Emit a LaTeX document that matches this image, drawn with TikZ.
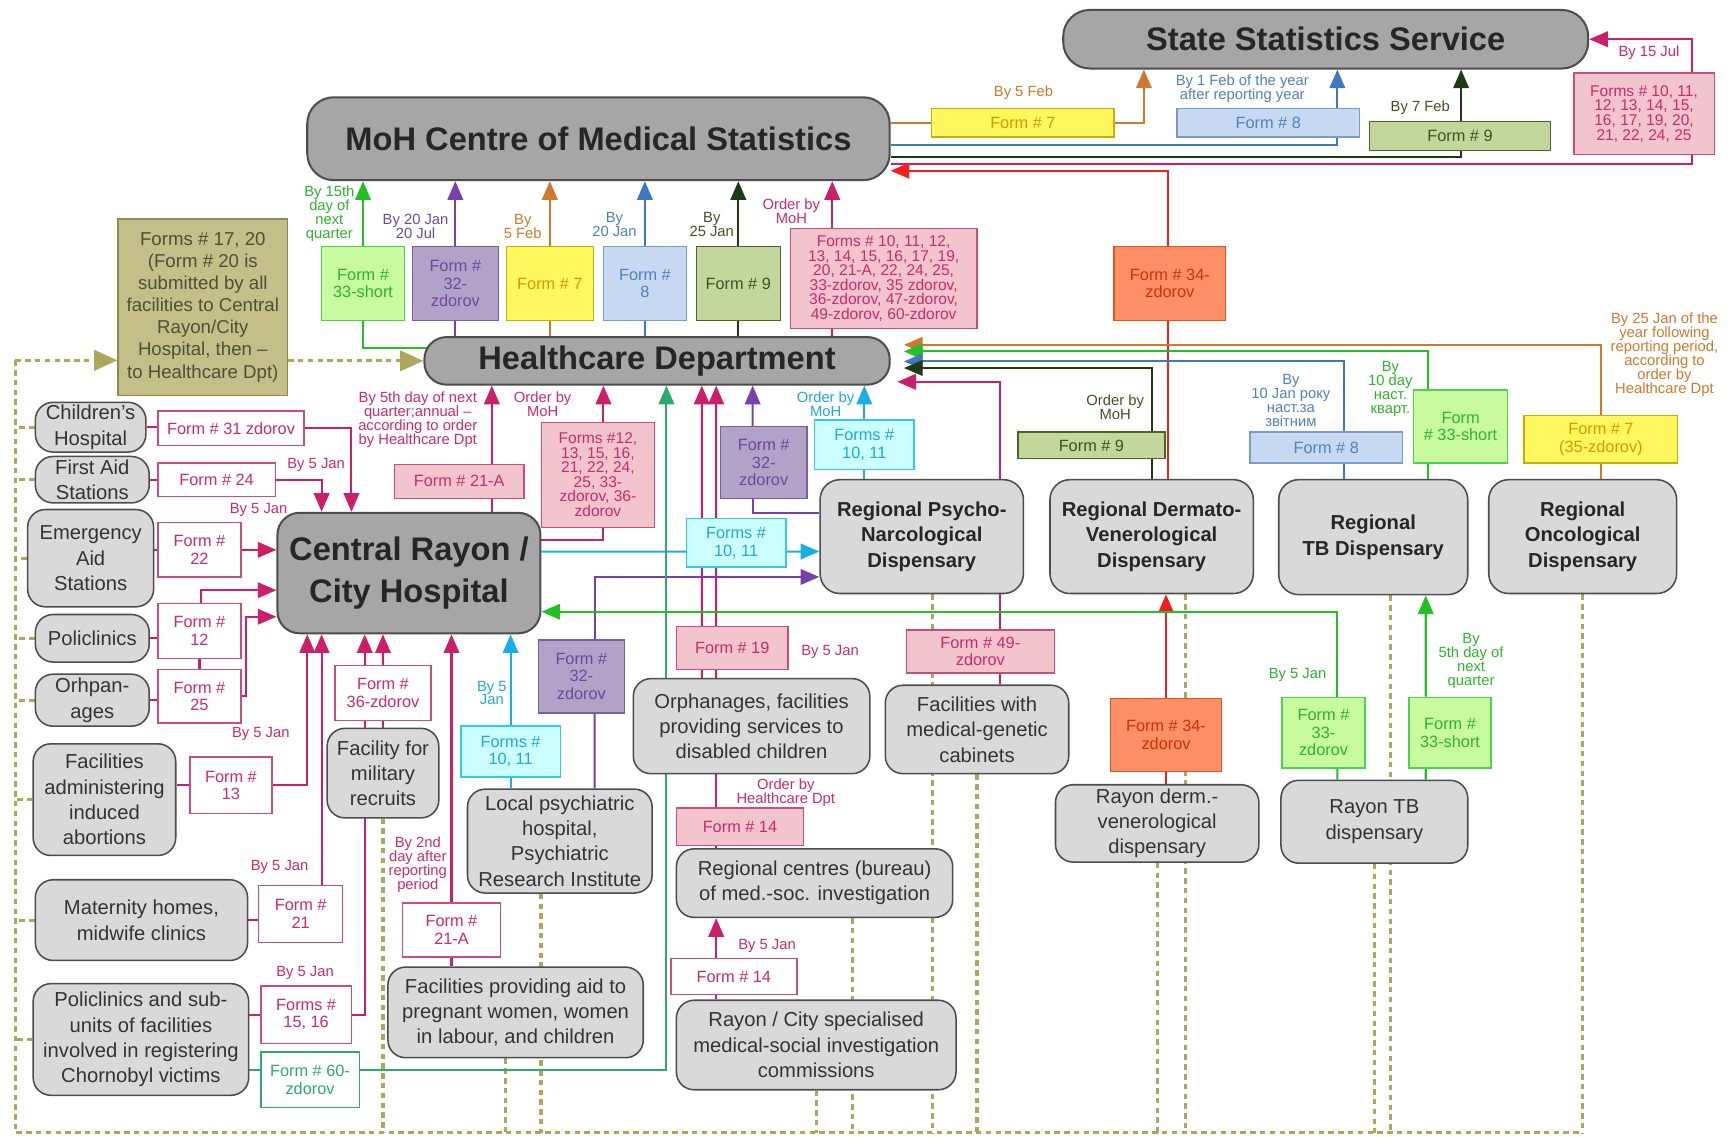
\documentclass[tikz,border=0pt]{standalone}
\usepackage{fontspec}
\setmainfont{Liberation Sans}
\setsansfont{Liberation Sans}
\usetikzlibrary{arrows.meta,calc,backgrounds,positioning}

\definecolor{bigfill}{HTML}{A6A6A6}
\definecolor{smallfill}{HTML}{D9D9D9}
\definecolor{boxline}{HTML}{4D4D4D}
\definecolor{titletext}{HTML}{262626}
\definecolor{factext}{HTML}{333333}
\definecolor{olivefill}{HTML}{C4BF88}
\definecolor{oliveline}{HTML}{8E8A4E}
\definecolor{olivetext}{HTML}{4F4F35}
\definecolor{dashcol}{HTML}{ACA75C}
\definecolor{yelfill}{HTML}{FFF75E}
\definecolor{yelline}{HTML}{C9AE00}
\definecolor{yeltext}{HTML}{D49A00}
\definecolor{bluefill}{HTML}{C6D9F1}
\definecolor{blueline}{HTML}{7A9CC8}
\definecolor{bluetext}{HTML}{4F81BD}
\definecolor{grnfill}{HTML}{C3D69B}
\definecolor{grnline}{HTML}{4F6228}
\definecolor{grntext}{HTML}{375623}
\definecolor{limefill}{HTML}{C8FA9E}
\definecolor{limeline}{HTML}{4CD24C}
\definecolor{limetext}{HTML}{2DB42D}
\definecolor{purfill}{HTML}{B3A2C7}
\definecolor{purline}{HTML}{7A5E9E}
\definecolor{purtext}{HTML}{6A4A9C}
\definecolor{pinkfill}{HTML}{F2C4CE}
\definecolor{pinkline}{HTML}{CC4C80}
\definecolor{pinktext}{HTML}{CC2A6B}
\definecolor{cyanfill}{HTML}{CCFFFF}
\definecolor{cyanline}{HTML}{33C8EE}
\definecolor{cyantext}{HTML}{1FA8D8}
\definecolor{redfill}{HTML}{FF8F66}
\definecolor{redline}{HTML}{D9541E}
\definecolor{redtext}{HTML}{CC3300}
\definecolor{tealline}{HTML}{2EAA70}
\definecolor{orcol}{HTML}{D0782E}
\definecolor{blcol}{HTML}{3F78C2}
\definecolor{dgcol}{HTML}{1E3A12}
\definecolor{pkcol}{HTML}{CC1F6A}
\definecolor{gncol}{HTML}{22C022}
\definecolor{pucol}{HTML}{7A3FAF}
\definecolor{cycol}{HTML}{1AAEE8}
\definecolor{rdcol}{HTML}{F02020}

\tikzset{sz/.style 2 args={minimum width=#1*0.025cm,minimum height=#2*0.025cm}}
\tikzset{bigbox/.style={draw=boxline,line width=1.3pt,fill=bigfill,rounded corners=0.6cm,align=center,inner sep=1pt,text=titletext,font=\fontsize{21}{27}\selectfont\bfseries}}
\tikzset{regbox/.style={draw=boxline,line width=1pt,fill=smallfill,rounded corners=0.45cm,align=center,inner sep=1pt,text=titletext,font=\fontsize{13}{16.5}\selectfont\bfseries}}
\tikzset{facbox/.style={draw=boxline,line width=1pt,fill=smallfill,rounded corners=0.4cm,align=center,inner sep=1pt,text=factext,font=\fontsize{13}{16.3}\selectfont}}
\tikzset{olivebox/.style={draw=oliveline,line width=1pt,fill=olivefill,align=center,inner sep=1pt,text=olivetext,font=\fontsize{12}{14.2}\selectfont}}
\tikzset{form/.style={line width=0.9pt,align=center,inner sep=1pt,font=\fontsize{10.5}{11.3}\selectfont}}
\tikzset{dense/.style={font=\fontsize{10}{9.4}\selectfont}}
\tikzset{fyellow/.style={form,draw=yelline,fill=yelfill,text=yeltext}}
\tikzset{fblue/.style={form,draw=blueline,fill=bluefill,text=bluetext}}
\tikzset{fgreen/.style={form,draw=grnline,fill=grnfill,text=grntext}}
\tikzset{flime/.style={form,draw=limeline,fill=limefill,text=limetext}}
\tikzset{fpurple/.style={form,draw=purline,fill=purfill,text=purtext}}
\tikzset{fpink/.style={form,draw=pinkline,fill=pinkfill,text=pinktext}}
\tikzset{fwhite/.style={form,draw=pinkline,fill=white,text=pinktext}}
\tikzset{fcyan/.style={form,draw=cyanline,fill=cyanfill,text=cyantext}}
\tikzset{fred/.style={form,draw=redline,fill=redfill,text=redtext}}
\tikzset{fteal/.style={form,draw=tealline,fill=white,text=tealline}}
\tikzset{lbl/.style={align=center,inner sep=0pt,font=\fontsize{9.5}{9}\selectfont}}
\tikzset{lnk/.style={line width=1.3pt}}
\tikzset{arr/.style={-{Triangle[length=12pt,width=10pt]}}}
\tikzset{bigarr/.style={-{Triangle[length=15pt,width=13pt]}}}
\tikzset{lorange/.style={lnk,draw=orcol}}
\tikzset{lblue/.style={lnk,draw=blcol}}
\tikzset{ldkgreen/.style={lnk,draw=dgcol}}
\tikzset{lpink/.style={lnk,draw=pkcol}}
\tikzset{lgreen/.style={lnk,draw=gncol}}
\tikzset{lpurple/.style={lnk,draw=pucol}}
\tikzset{lcyan/.style={lnk,draw=cycol}}
\tikzset{lred/.style={lnk,draw=rdcol}}
\tikzset{lteal/.style={lnk,draw=tealline}}
\tikzset{dashline/.style={draw=dashcol,line width=2pt,dash pattern=on 3.5pt off 2.8pt}}

\begin{document}
\begin{tikzpicture}[x=0.025cm,y=-0.025cm]
  \useasboundingbox (0,0) rectangle (1568,1028);

  % main bodies
  \node[bigbox,sz={475}{53}] (sss) at (1199.5,35.5) {State Statistics Service};
  \node[bigbox,sz={527}{75}] (moh) at (541.5,125.5) {MoH Centre of Medical Statistics};
  \node[bigbox,sz={421}{43},rounded corners=0.5cm] (hd) at (594.5,326.5) {Healthcare Department};
  \node[bigbox,sz={238}{109},rounded corners=0.5cm] (crh) at (370,518.5) {Central Rayon /\\City Hospital};
  \node[olivebox,sz={153}{160}] (f1720) at (183.5,278) {Forms \# 17, 20\\(Form \# 20 is\\submitted by all\\facilities to Central\\Rayon/City\\Hospital, then --\\to Healthcare Dpt)};

  % forms to the State Statistics Service
  \node[fyellow,sz={165}{26}] (t7) at (925.5,111) {Form \# 7};
  \node[fblue,sz={165}{26}] (t8) at (1147.5,111) {Form \# 8};
  \node[fgreen,sz={164}{26}] (t9) at (1321,123) {Form \# 9};
  \node[fpink,dense,sz={127}{74}] (tpk) at (1487.5,103) {Forms \# 10, 11,\\12, 13, 14, 15,\\16, 17, 19, 20,\\21, 22, 24, 25};

  % forms to the MoH centre
  \node[flime,sz={75}{67}] (m33) at (328.5,256.5) {Form \#\\33-short};
  \node[fpurple,sz={78}{67}] (m32) at (412,256.5) {Form \#\\32-\\zdorov};
  \node[fyellow,sz={79}{67}] (m7) at (497.5,256.5) {Form \# 7};
  \node[fblue,sz={75}{67}] (m8) at (583.5,256.5) {Form \#\\8};
  \node[fgreen,sz={76}{67}] (m9) at (668,256.5) {Form \# 9};
  \node[fpink,dense,sz={169}{90}] (mpk) at (799.5,252) {Forms \# 10, 11, 12,\\13, 14, 15, 16, 17, 19,\\20, 21-A, 22, 24, 25,\\33-zdorov, 35 zdorov,\\36-zdorov, 47-zdorov,\\49-zdorov, 60-zdorov};
  \node[fred,sz={101}{67}] (m34) at (1058.5,256.5) {Form \# 34-\\zdorov};

  % regional dispensaries
  \node[regbox,sz={184}{103}] (rpsy) at (834,485.5) {Regional Psycho-\\Narcological\\Dispensary};
  \node[regbox,sz={184}{103}] (rder) at (1042,485.5) {Regional Dermato-\\Venerological\\Dispensary};
  \node[regbox,sz={171}{104}] (rtb) at (1242.5,486) {Regional\\TB Dispensary};
  \node[regbox,sz={170}{103}] (ronc) at (1432,485.5) {Regional\\Oncological\\Dispensary};
  \node[fgreen,sz={133}{24}] (d9) at (987.5,403) {Form \# 9};
  \node[fblue,sz={138}{28}] (d8) at (1200,405) {Form \# 8};
  \node[flime,sz={85}{66}] (d33) at (1321.5,386) {Form\\\# 33-short};
  \node[fyellow,sz={139}{43}] (d7) at (1448.5,397.5) {Form \# 7\\(35-zdorov)};

  % facilities on the left
  \node[facbox,sz={100}{45}] (chh) at (82,386.5) {Children's\\Hospital};
  \node[facbox,sz={103}{42}] (fas) at (83.5,434) {First Aid\\Stations};
  \node[facbox,sz={114}{88}] (eas) at (82,505) {Emergency\\Aid\\Stations};
  \node[facbox,sz={103}{43}] (pol) at (83.5,577.5) {Policlinics};
  \node[facbox,sz={103}{47}] (orp) at (83.5,633.5) {Orhpan-\\ages};
  \node[facbox,sz={129}{101}] (abo) at (94.5,723.5) {Facilities\\administering\\induced\\abortions};
  \node[facbox,sz={192}{73}] (mat) at (128,832.5) {Maternity homes,\\midwife clinics};
  \node[facbox,sz={195}{101}] (chr) at (127.5,940.5) {Policlinics and sub-\\units of facilities\\involved in registering\\Chornobyl victims};
  \node[fwhite,sz={132}{31}] (w31) at (209,387.5) {Form \# 31 zdorov};
  \node[fwhite,sz={106}{30}] (w24) at (196,434) {Form \# 24};
  \node[fwhite,sz={75}{49}] (w22) at (180.5,497.5) {Form \#\\22};
  \node[fwhite,sz={75}{50}] (w12) at (180.5,571) {Form \#\\12};
  \node[fwhite,sz={75}{48}] (w25) at (180.5,630) {Form \#\\25};
  \node[fwhite,sz={74}{51}] (w13) at (209,710.5) {Form \#\\13};
  \node[fwhite,sz={76}{52}] (w21) at (272,827) {Form \#\\21};
  \node[fwhite,sz={82}{52}] (w1516) at (277,918) {Forms \#\\15, 16};
  \node[fteal,sz={89}{50}] (w60) at (280.5,977) {Form \# 60-\\zdorov};

  % facilities below the hospital
  \node[fwhite,sz={87}{50}] (w36) at (346.5,627) {Form \#\\36-zdorov};
  \node[facbox,sz={101}{81}] (mil) at (346.5,699.5) {Facility for\\military\\recruits};
  \node[fcyan,sz={90}{46}] (c1c) at (462,680) {Forms \#\\10, 11};
  \node[facbox,sz={167}{94}] (lps) at (506.5,761) {Local psychiatric\\hospital,\\Psychiatric\\Research Institute};
  \node[fwhite,sz={89}{49}] (w21a) at (408.5,841.5) {Form \#\\21-A};
  \node[facbox,sz={231}{82}] (fpw) at (466.5,916) {Facilities providing aid to\\pregnant women, women\\in labour, and children};
  \node[fpink,sz={117}{31}] (p21a) at (415.5,435.5) {Form \# 21-A};
  \node[fpink,dense,sz={102}{95}] (p12) at (541,429.5) {Forms \#12,\\13, 15, 16,\\21, 22, 24,\\25, 33-\\zdorov, 36-\\zdorov};
  \node[fpurple,sz={78}{65}] (u32) at (691,418.5) {Form \#\\32-\\zdorov};
  \node[fcyan,sz={90}{45}] (c1a) at (782,402.5) {Forms \#\\10, 11};
  \node[fcyan,sz={90}{44}] (c1b) at (666,491) {Forms \#\\10, 11};
  \node[fpurple,sz={78}{66}] (l32) at (526,612) {Form \#\\32-\\zdorov};
  \node[fpink,sz={101}{39}] (p19) at (662.5,586.5) {Form \# 19};
  \node[fpink,sz={134}{39}] (p49) at (887,589.5) {Form \# 49-\\zdorov};
  \node[facbox,sz={214}{86}] (orf) at (680,657) {Orphanages, facilities\\providing services to\\disabled children};
  \node[facbox,sz={166}{80}] (mgc) at (884,660) {Facilities with\\medical-genetic\\cabinets};
  \node[fpink,sz={115}{34}] (p14) at (669.5,748) {Form \# 14};
  \node[facbox,sz={250}{62}] (rcb) at (737,799) {Regional centres (bureau)\\of med.-soc. investigation};
  \node[fwhite,sz={114}{33}] (w14) at (664,883.5) {Form \# 14};
  \node[facbox,sz={253}{81}] (rcs) at (738.5,945.5) {Rayon / City specialised\\medical-social investigation\\commissions};

  % rayon dispensaries
  \node[fred,sz={100}{66}] (b34) at (1055,665) {Form \# 34-\\zdorov};
  \node[flime,sz={75}{64}] (b33z) at (1197.5,663) {Form \#\\33-\\zdorov};
  \node[flime,sz={74}{64}] (b33s) at (1312,663) {Form \#\\33-short};
  \node[facbox,sz={184}{70}] (rdv) at (1047,745) {Rayon derm.-\\venerological\\dispensary};
  \node[facbox,sz={169}{75}] (rtbd) at (1243.5,743.5) {Rayon TB\\dispensary};

  % deadlines
  \node[lbl,text=limetext] at (298,193) {By 15th\\day of\\next\\quarter};
  \node[lbl,text=purtext] at (376,205) {By 20 Jan\\20 Jul};
  \node[lbl,text=orcol] at (473,205) {By\\5 Feb};
  \node[lbl,text=bluetext] at (556,203) {By\\20 Jan};
  \node[lbl,text=grntext] at (644,203) {By\\25 Jan};
  \node[lbl,text=pinktext] at (716,191) {Order by\\MoH};
  \node[lbl,text=orcol] at (926,84) {By 5 Feb};
  \node[lbl,text=bluetext] at (1124,80) {By 1 Feb of the year\\after reporting year};
  \node[lbl,text=grntext] at (1285,97) {By 7 Feb};
  \node[lbl,text=pinktext] at (1492,48) {By 15 Jul};
  \node[lbl,text=pinktext] at (378,380) {By 5th day of next\\quarter;annual --\\according to order\\by Healthcare Dpt};
  \node[lbl,text=pinktext] at (491,366) {Order by\\MoH};
  \node[lbl,text=cyantext] at (747,366) {Order by\\MoH};
  \node[lbl,text=grntext] at (1009,368) {Order by\\MoH};
  \node[lbl,text=bluetext] at (1168,362) {By\\10 Jan року\\наст.за\\звітним};
  \node[lbl,text=limetext] at (1258,352) {By\\10 day\\наст.\\кварт.};
  \node[lbl,text=orcol] at (1506,321) {By 25 Jan of the\\year following\\reporting period,\\according to\\order by\\Healthcare Dpt};
  \node[lbl,text=pinktext] at (286,421) {By 5 Jan};
  \node[lbl,text=pinktext] at (234,461) {By 5 Jan};
  \node[lbl,text=pinktext] at (236,664) {By 5 Jan};
  \node[lbl,text=pinktext] at (253,784) {By 5 Jan};
  \node[lbl,text=pinktext] at (276,880) {By 5 Jan};
  \node[lbl,text=pinktext] at (378,782) {By 2nd\\day after\\reporting\\period};
  \node[lbl,text=cyantext] at (445,627) {By 5\\Jan};
  \node[lbl,text=pinktext] at (751,590) {By 5 Jan};
  \node[lbl,text=pinktext] at (711,717) {Order by\\Healthcare Dpt};
  \node[lbl,text=pinktext] at (694,856) {By 5 Jan};
  \node[lbl,text=limetext] at (1174,611) {By 5 Jan};
  \node[lbl,text=limetext] at (1331,598) {By\\5th day of\\next\\quarter};

  \begin{scope}[on background layer]
    % dashed frame
    \coordinate (dtop) at (14,326);
    \coordinate (dbot) at (14,1025);
    \coordinate (dend) at (1432,1025);
    \draw[dashline] (dtop) -- (dbot) -- (dend);
    \draw[dashline,bigarr] (dtop) -- (dtop -| f1720.west);
    \draw[dashline,bigarr] (f1720.east |- hd.west) -- (hd.west);
    \foreach \n in {chh,fas,eas,pol,orp,abo,mat,chr}
      \draw[dashline] (\n.west) -- (\n.west -| dtop);
    \foreach \n/\o in {mil/0,fpw/-9,lps/-17,rcs/0,rcb/34,rpsy/10,mgc/0,rdv/0,rder/31,rtbd/0,rtb/15.5,ronc/0}
      \draw[dashline] ($(\n.south)+(\o,0)$) coordinate (tmp) -- (tmp |- dbot);

    % MoH to State Statistics Service
    \draw[lorange] (moh.east |- t7.west) -- (t7.west);
    \draw[lorange,arr] (t7.east) -| ($(sss.south)+(-164.5,0)$);
    \draw[lblue,arr] ($(moh.east)+(0,5.5)$) -| ($(sss.south)+(10.5,0)$);
    \draw[ldkgreen,arr] ($(moh.east)+(0,16.5)$) -| ($(sss.south)+(122.5,0)$);
    \draw[lpink,arr] ($(moh.east)+(0,22.5)$) -| ($(sss.east)+(93,0)$) -- (sss.east);
    \draw[lred,arr] ($(rder.north)+(15,0)$) |- ($(moh.east)+(0,29)$);

    % Healthcare Department to MoH
    \foreach \f/\c in {m32/lpurple,m7/lorange,m8/lblue,m9/ldkgreen} {
      \draw[\c,arr] (\f.north) -- (\f.north |- moh.south);
      \draw[\c] (\f.south) -- (\f.south |- hd.north);
    }
    \draw[lgreen,arr] (m33.north) -- (m33.north |- moh.south);
    \draw[lgreen] (m33.south) |- ($(hd.west)+(15,-12)$);
    \draw[lpink,arr] ($(hd.north)+(158.5,0)$) -- ($(moh.south)+(211.5,0)$);

    % regional dispensaries to Healthcare Department
    \draw[lorange,arr] (d7.north) |- ($(hd.east)+(12,-14.5)$);
    \draw[lorange] (d7.south) -- (d7.south |- ronc.north);
    \draw[lgreen,arr] ($(rtb.north)+(49.5,0)$) |- ($(hd.east)+(12,-8.5)$);
    \draw[lblue,arr] ($(rtb.north)+(-26.5,0)$) |- ($(hd.east)+(12,0.5)$);
    \draw[ldkgreen,arr] (rder.north) |- ($(hd.east)+(12,6.5)$);
    \draw[lpink,arr] ($(rpsy.north)+(71,0)$) |- ($(hd.east)+(6,19)$);
    \draw[lpink] ($(rpsy.south)+(71,0)$) -- ($(mgc.north)+(21,0)$);
    \draw[lcyan,arr] (c1a.north) -- (c1a.north |- hd.south);
    \draw[lcyan] (c1a.south) -- (c1a.south |- rpsy.north);
    \draw[lpurple,arr] ($(u32.north)+(-10,0)$) -- ($(hd.south)+(86.5,0)$);
    \draw[lpurple] ($(u32.south)+(-10,0)$) |- ($(rpsy.west)+(0,-21.5)$);
    \draw[lpurple,arr] ($(l32.north)+(12,0)$) |- ($(rpsy.west)+(0,36.5)$);
    \draw[lpurple] ($(l32.south)+(12,0)$) -- ($(lps.north)+(31.5,0)$);
    \draw[lcyan,arr] ($(crh.east)+(0,-19.5)$) -- ($(rpsy.west)+(0,13.5)$);

    % facilities to the Central Rayon / City Hospital
    \draw[lpink] (chh.east) -- (chh.east -| w31.west);
    \draw[lpink] (fas.east) -- (fas.east -| w24.west);
    \draw[lpink] (w22.west) -- (w22.west -| eas.east);
    \draw[lpink] (pol.east) -- (pol.east -| w12.west);
    \draw[lpink] (orp.east) -- (orp.east -| w25.west);
    \draw[lpink] (w13.west) -- (w13.west -| abo.east);
    \draw[lpink] (mat.east) -- (mat.east -| w21.west);
    \draw[lpink] (w1516.west) -- (w1516.west -| chr.east);
    \draw[lpink,arr] (w31.east) -| ($(crh.north)+(-52,0)$);
    \draw[lpink,arr] (w24.east) -| ($(crh.north)+(-79,0)$);
    \draw[lpink,arr] (w22.east) -- (w22.east -| crh.west);
    \draw[lpink,arr] ($(w12.north)+(1.5,0)$) |- ($(crh.west)+(0,15.5)$);
    \draw[lpink] (w12.south) -- (w25.north);
    \draw[lpink,arr] (w25.east) -- ++(4,0) |- ($(crh.west)+(0,39.5)$);
    \draw[lpink,arr] (w13.east) -| ($(crh.south)+(-92,0)$);
    \draw[lpink,arr] ($(w21.north)+(19,0)$) -- ($(crh.south)+(-79,0)$);
    \draw[lpink,arr] (w1516.east) -| ($(crh.south)+(-40,0)$);
    \draw[lpink,arr] (mil.north) -- (mil.north |- crh.south);
    \draw[lpink,arr] (w21a.north) -- (w21a.north |- crh.south);
    \draw[lpink] (w21a.south) -- (w21a.south |- fpw.north);
    \draw[lcyan,arr] (c1c.north) -- (c1c.north |- crh.south);
    \draw[lcyan] (c1c.south) -- (c1c.south |- lps.north);
    \draw[lteal,arr] ($(chr.east)+(0,27.5)$) -| ($(hd.south)+(8.5,0)$);

    % Central Rayon / City Hospital to Healthcare Department
    \draw[lpink,arr] ($(crh.north)+(75,0)$) -- ($(hd.south)+(-149.5,0)$);
    \draw[lpink] ($(crh.east)+(0,-29.5)$) -| ($(p12.south)+(5,0)$);
    \draw[lpink,arr] ($(p12.north)+(5,0)$) -- ($(hd.south)+(-48.5,0)$);
    \draw[lpink,arr] ($(orf.north)+(-45,0)$) -- ($(hd.south)+(40.5,0)$);
    \draw[lpink,arr] ($(orf.north)+(-32,0)$) -- ($(hd.south)+(53.5,0)$);
    \draw[lpink] ($(orf.south)+(-32,0)$) -- ($(rcb.north)+(-89,0)$);
    \draw[lpink,arr] ($(rcs.north)+(-90.5,0)$) -- ($(rcb.south)+(-89,0)$);

    % rayon dispensaries
    \draw[lred,arr] (b34.north) -- (b34.north |- rder.south);
    \draw[lred] (b34.south) -- (b34.south |- rdv.north);
    \draw[lgreen,arr] ($(b33z.north)+(12.5,0)$) |- ($(crh.east)+(0,35)$);
    \draw[lgreen] ($(b33z.south)+(12.5,0)$) -- ($(rtbd.north)+(-33.5,0)$);
    \draw[lgreen,arr] ($(b33s.north)+(-22,0)$) -- ($(rtb.south)+(47.5,0)$);
    \draw[lgreen] ($(b33s.south)+(-22,0)$) -- ($(rtbd.north)+(46.5,0)$);
  \end{scope}
\end{tikzpicture}
\end{document}
